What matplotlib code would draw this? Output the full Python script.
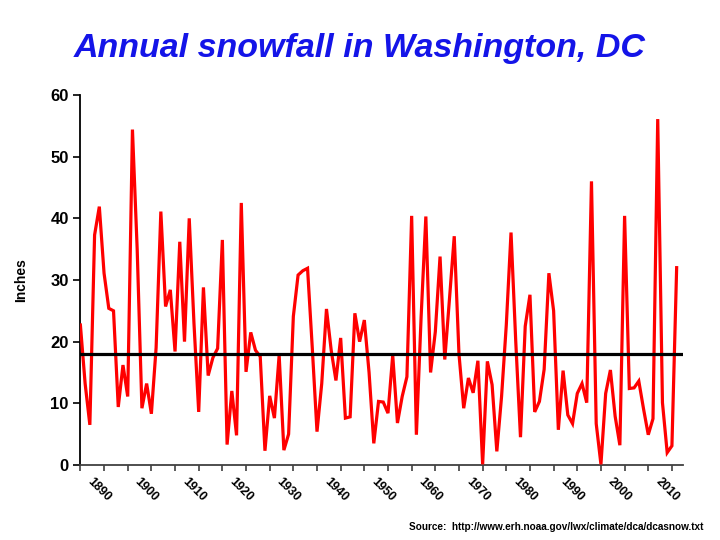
import numpy as np
import matplotlib
matplotlib.use("Agg")
import matplotlib.pyplot as plt
import matplotlib.transforms as mtransforms

# --- Data (seasonal snowfall at DCA, inches, by season end year) ---
first_year = 1888
snowfall = [
    22.7, 13.2, 6.5, 37.3, 41.9, 31.1, 25.4, 25.0, 9.4, 16.2,      # 1888-1897
    11.1, 54.4, 35.0, 9.2, 13.2, 8.3, 19.0, 41.1, 25.7, 28.4,      # 1898-1907
    18.4, 36.2, 20.0, 40.0, 23.0, 8.6, 28.8, 14.5, 17.4, 18.9,     # 1908-1917
    36.5, 3.3, 12.0, 4.8, 42.5, 15.1, 21.5, 18.6, 17.6, 2.3,       # 1918-1927
    11.2, 7.6, 17.8, 2.4, 5.0, 24.1, 30.8, 31.5, 31.9, 19.0,       # 1928-1937
    5.4, 13.2, 25.3, 18.6, 13.7, 20.6, 7.6, 7.8, 24.6, 20.0,       # 1938-1947
    23.5, 15.0, 3.5, 10.3, 10.2, 8.4, 17.8, 6.8, 11.1, 14.3,       # 1948-1957
    40.4, 4.9, 24.0, 40.3, 15.0, 21.6, 33.8, 17.1, 27.0, 37.1,     # 1958-1967
    18.0, 9.2, 14.1, 11.7, 16.9, 0.1, 16.8, 13.0, 2.2, 11.1,       # 1968-1977
    22.7, 37.7, 20.0, 4.5, 22.5, 27.6, 8.6, 10.3, 15.5, 31.1,      # 1978-1987
    25.0, 5.7, 15.3, 8.1, 6.7, 11.6, 13.2, 10.1, 46.0, 6.7,        # 1988-1997
    0.1, 11.6, 15.4, 7.9, 3.2, 40.4, 12.4, 12.5, 13.6, 9.1,        # 1998-2007
    4.9, 7.5, 56.1, 10.1, 2.0, 3.1, 32.0,                          # 2008-2014
]
years = np.arange(first_year, first_year + len(snowfall))
mean_snow = 18.0
decade_labels = [1890, 1900, 1910, 1920, 1930, 1940, 1950,
                 1960, 1970, 1980, 1990, 2000, 2010]
y_ticks = [0, 10, 20, 30, 40, 50, 60]

plt.rcParams['font.family'] = ['Liberation Sans', 'DejaVu Sans']

fig = plt.figure(figsize=(7.2, 5.4), dpi=100)
ax = fig.add_axes([0.111, 0.139, 0.838, 0.685])

ax.plot(years, snowfall, color='#ff0000', lw=2.3, solid_joinstyle='miter', zorder=3)
ax.axhline(mean_snow, color='black', lw=2.3, zorder=4)

ax.set_xlim(first_year - 0.1, years[-1] + 1.4)
ax.set_ylim(0, 60)

for s in ['top', 'right']:
    ax.spines[s].set_visible(False)
ax.spines['left'].set_linewidth(1.3)
ax.spines['bottom'].set_linewidth(1.3)
ax.spines['bottom'].set_color('#404040')

ax.set_yticks(y_ticks)
ax.set_yticklabels([str(v) for v in y_ticks], fontsize=12, fontweight='bold')
ax.tick_params(axis='y', direction='out', length=5, width=1.2, pad=3)

# tick marks every 5 years, labels every decade (rotated)
ax.set_xticks(np.arange(first_year, years[-1] + 1, 5))
ax.set_xticklabels([])
ax.tick_params(axis='x', direction='out', length=4, width=1.2, color='#404040')

trans = mtransforms.blended_transform_factory(ax.transData, ax.transAxes)
for yr in decade_labels:
    ax.text(yr + 0.8, -0.03, str(yr), transform=trans, rotation=-45,
            ha='left', va='top', rotation_mode='anchor',
            fontsize=9, fontweight='bold')

ax.set_ylabel('Inches', fontsize=10, fontweight='bold', labelpad=16)

fig.text(0.5, 0.911, 'Annual snowfall in Washington, DC', ha='center', va='center',
         fontsize=24.5, fontweight='bold', fontstyle='italic', color='#1414e8')
fig.text(0.977, 0.025, 'Source:  http://www.erh.noaa.gov/lwx/climate/dca/dcasnow.txt',
         ha='right', va='center', fontsize=7.2, fontweight='bold')

fig.savefig('out.png', dpi=100)
